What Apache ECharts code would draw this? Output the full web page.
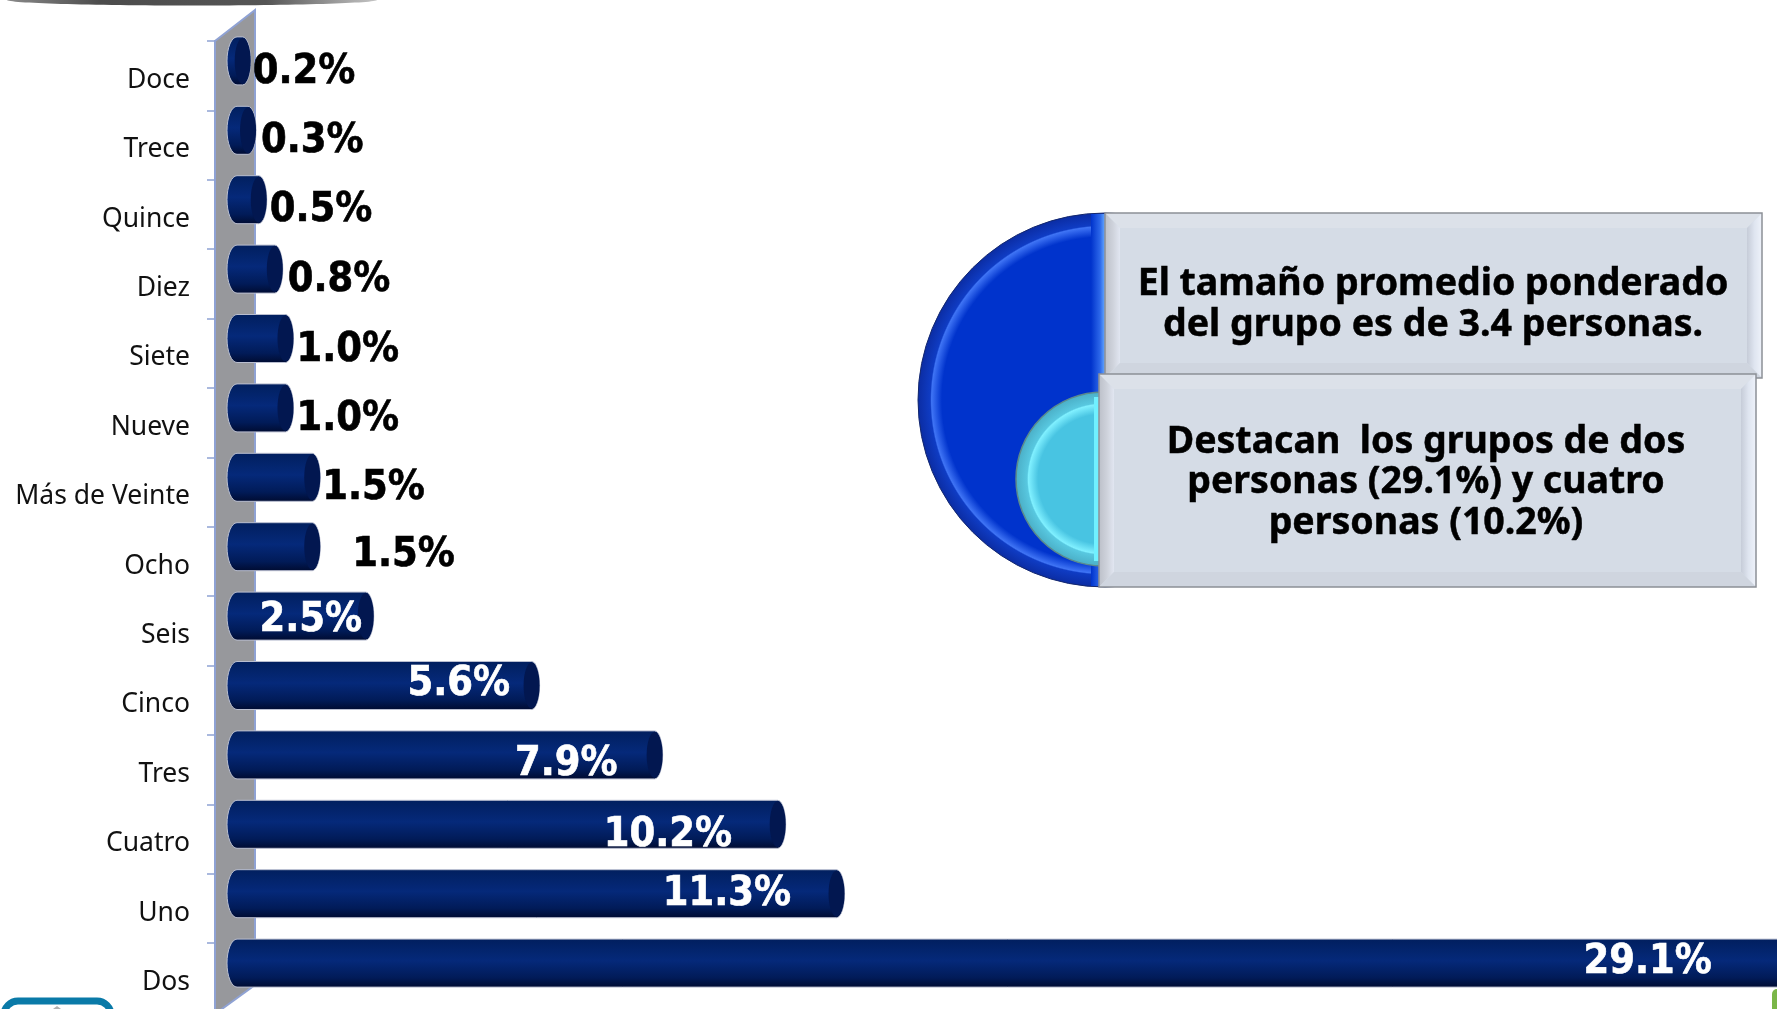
<!DOCTYPE html>
<html>
<head>
<meta charset="utf-8">
<style>
html, body { margin: 0; padding: 0; background: #fff; overflow: hidden; }
#chart { width: 1777px; height: 1009px; }
</style>
<script src="https://cdn.jsdelivr.net/npm/echarts@6/dist/echarts.min.js"></script>
</head>
<body>
<div id="chart"></div>
<script>
// datos
var categories = ["Doce", "Trece", "Quince", "Diez", "Siete", "Nueve", "Más de Veinte", "Ocho", "Seis", "Cinco", "Tres", "Cuatro", "Uno", "Dos"];
var values = [0.2, 0.3, 0.5, 0.8, 1.0, 1.0, 1.5, 1.5, 2.5, 5.6, 7.9, 10.2, 11.3, 29.1];
var noteTop = ["El tamaño promedio ponderado", "del grupo es de 3.4 personas."];
var noteBottom = ["Destacan  los grupos de dos", "personas (29.1%) y cuatro", "personas (10.2%)"];

var myChart = echarts.init(document.getElementById("chart"));

var BOLD_FONT = '"DejaVu Sans"';
var NOTE_FONT = '"Noto Sans"';
var AXIS_BLUE = "#8fa2d4";

// el cilindro esta desplazado respecto a la banda (efecto 3D)
var BAR_SHIFT = -14.8;
var BAR_HEIGHT = 48;
// ajuste manual de etiquetas: [dx desde el final de la barra, dy desde el centro]
var labelNudge = {
    "Doce": [2, 11.5], "Trece": [5, 11.6], "Quince": [3, 11.2], "Diez": [5, 11.3],
    "Siete": [3, 11.9], "Nueve": [3, 11.5], "Más de Veinte": [2, 11.1], "Ocho": [32, 8.7],
    "Seis": [-11.7, 5], "Cinco": [-29.6, -1], "Tres": [-45, 10.1],
    "Cuatro": [-53.7, 11.1], "Uno": [-53.5, 0.5], "Dos": [-85, -0.5]
};

function renderCylinder(params, api) {
    var idx = api.value(1);
    var p = api.coord([api.value(0), idx]);
    var zero = api.coord([0, idx]);
    var cy = p[1] + BAR_SHIFT;
    var top = cy - BAR_HEIGHT / 2;
    var bottom = cy + BAR_HEIGHT / 2;
    var ry = BAR_HEIGHT / 2;
    var lx = zero[0] - 3;
    var rx = p[0] - 8;
    var body = "M" + lx + " " + top + " L" + rx + " " + top +
        " A8 " + ry + " 0 0 1 " + rx + " " + bottom +
        " L" + lx + " " + bottom +
        " A10 " + ry + " 0 0 1 " + lx + " " + top + " Z";
    var name = categories[idx];
    var nudge = labelNudge[name];
    var inside = nudge[0] < 0;
    var textColor = inside ? "#fff" : "#000";
    return {
        type: "group",
        children: [
            {
                type: "path",
                shape: { pathData: body },
                style: {
                    fill: new echarts.graphic.LinearGradient(0, 0, 0, 1, [
                        { offset: 0, color: "#011f5e" },
                        { offset: 0.45, color: "#05297a" },
                        { offset: 0.8, color: "#011b58" },
                        { offset: 1, color: "#000b30" }
                    ]),
                    stroke: "#b9bed0",
                    lineWidth: 1
                }
            },
            {
                type: "ellipse",
                shape: { cx: rx, cy: cy, rx: 8, ry: ry - 1 },
                style: { fill: "#021750" }
            },
            {
                type: "text",
                x: p[0] + nudge[0],
                y: cy + nudge[1],
                scaleY: 1.08,
                style: {
                    text: values[idx].toFixed(1) + "%",
                    fill: textColor,
                    stroke: textColor,
                    lineWidth: 0.6,
                    font: "bold 37px " + BOLD_FONT,
                    textAlign: inside ? "right" : "left",
                    textVerticalAlign: "middle"
                }
            }
        ]
    };
}

// caja con bisel del cuadro de texto
function bevelBox(x, y, w, h, lines, cx, firstY, lineGap, z) {
    var b = 15;
    var x2 = x + w, y2 = y + h;
    function facet(pts, color) {
        return { type: "polygon", silent: true, z: z, shape: { points: pts }, style: { fill: color } };
    }
    var kids = [
        { type: "rect", silent: true, z: z, shape: { x: x, y: y, width: w, height: h }, style: { fill: "#d5dce6" } },
        facet([[x, y], [x2, y], [x2 - b, y + b], [x + b, y + b]], "#dce1e9"),
        facet([[x, y], [x + b, y + b], [x + b, y2 - b], [x, y2]], new echarts.graphic.LinearGradient(0, 0, 1, 0, [
            { offset: 0, color: "#bcc0c9" },
            { offset: 0.55, color: "#cfd3dc" },
            { offset: 1, color: "#e1e6f1" }
        ])),
        facet([[x2, y], [x2, y2], [x2 - b, y2 - b], [x2 - b, y + b]], new echarts.graphic.LinearGradient(0, 0, 1, 0, [
            { offset: 0, color: "#c6ccd8" },
            { offset: 0.5, color: "#dfe5f0" },
            { offset: 1, color: "#eef2fa" }
        ])),
        facet([[x, y2], [x + b, y2 - b], [x2 - b, y2 - b], [x2, y2]], "#cfd5df"),
        { type: "rect", silent: true, z: z, shape: { x: x, y: y, width: w, height: h }, style: { fill: "none", stroke: "#8c9096", lineWidth: 1.5 } }
    ];
    lines.forEach(function (t, i) {
        kids.push({
            type: "text",
            silent: true,
            z: z,
            x: cx,
            y: firstY + i * lineGap,
            style: { text: t, fill: "#000", stroke: "#000", lineWidth: 0.5, font: "bold 37.5px " + NOTE_FONT, textAlign: "center", textVerticalAlign: "middle" }
        });
    });
    return kids;
}

var option = {
    backgroundColor: "#fff",
    animation: false,
    grid: { left: 240, top: 41, width: 1605, height: 971.6, outerBoundsMode: "none", containLabel: false },
    xAxis: { type: "value", min: 0, max: 30, show: false },
    yAxis: {
        type: "category",
        inverse: true,
        data: categories,
        offset: 25,
        z: 2,
        axisLine: { show: true, onZero: false, lineStyle: { color: AXIS_BLUE, width: 2 } },
        axisTick: { show: true, inside: false, length: 8, lineStyle: { color: AXIS_BLUE, width: 1.5 } },
        // lineHeight corto con verticalAlign top: baja el texto unos px respecto a la banda
        axisLabel: { color: "#111", fontFamily: "Noto Sans", fontSize: 26.5, margin: 25, verticalAlign: "top", lineHeight: 9 },
        splitLine: { show: false }
    },
    graphic: [
        // pared lateral del grafico 3D
        {
            type: "polygon", silent: true, z: 0,
            shape: { points: [[215, 41], [255, 10], [255, 985], [215, 1014]] },
            style: { fill: "#97989c", stroke: AXIS_BLUE, lineWidth: 2 }
        },
        // arco oscuro del borde superior
        {
            type: "ellipse", silent: true, z: 0,
            shape: { cx: 192, cy: 0, rx: 185, ry: 5.5 },
            style: {
                fill: new echarts.graphic.LinearGradient(0, 0, 1, 0, [
                    { offset: 0, color: "#8a8a8a" },
                    { offset: 0.25, color: "#4c4c4c" },
                    { offset: 0.7, color: "#555" },
                    { offset: 1, color: "#c4c4c4" }
                ])
            }
        },
        // esquina inferior izquierda y derecha
        {
            type: "rect", silent: true, z: 0,
            shape: { x: 4, y: 1001, width: 107, height: 30, r: 14 },
            style: { fill: "#fff", stroke: "#0a7aa8", lineWidth: 7 }
        },
        {
            type: "polygon", silent: true, z: 0,
            shape: { points: [[53, 1009], [57, 1006], [61, 1009]] },
            style: { fill: "#b0b0b0" }
        },
        {
            type: "rect", silent: true, z: 0,
            shape: { x: 1772, y: 989, width: 20, height: 30, r: 5 },
            style: { fill: "#7ab648" }
        },
        // semicirculos detras de los cuadros
        {
            type: "circle", silent: true, z: 5,
            shape: { cx: 1105, cy: 400, r: 187 },
            style: {
                fill: new echarts.graphic.RadialGradient(0.5, 0.5, 0.5, [
                    { offset: 0, color: "#0033cc" },
                    { offset: 0.87, color: "#0033cc" },
                    { offset: 0.925, color: "#3f74f5" },
                    { offset: 0.932, color: "#0f3cc4" },
                    { offset: 1, color: "#0b2ca2" }
                ]),
                stroke: "#14286e",
                lineWidth: 1
            }
        },
        {
            type: "rect", silent: true, z: 5,
            shape: { x: 1091, y: 214, width: 14, height: 372 },
            style: {
                fill: new echarts.graphic.LinearGradient(0, 0, 1, 0, [
                    { offset: 0, color: "#0033cc" },
                    { offset: 0.65, color: "#2d68ea" },
                    { offset: 1, color: "#66aaff" }
                ])
            }
        },
        {
            type: "circle", silent: true, z: 6,
            shape: { cx: 1103, cy: 479, r: 87 },
            style: {
                fill: new echarts.graphic.RadialGradient(0.5, 0.5, 0.5, [
                    { offset: 0, color: "#48c4e2" },
                    { offset: 0.74, color: "#48c4e2" },
                    { offset: 0.85, color: "#80f0ff" },
                    { offset: 0.865, color: "#58c8e0" },
                    { offset: 1, color: "#4aaec6" }
                ]),
                stroke: "#5b8a8c",
                lineWidth: 1.5
            }
        },
        {
            type: "rect", silent: true, z: 6,
            shape: { x: 1094, y: 397, width: 5, height: 164 },
            style: { fill: "#70f0ff" }
        }
    ].concat(
        bevelBox(1105, 213, 657, 165, noteTop, 1433, 284, 41, 10),
        bevelBox(1099, 374, 657, 213, noteBottom, 1426, 442, 40.5, 11)
    ),
    series: [
        {
            type: "custom",
            z: 3,
            clip: false,
            renderItem: renderCylinder,
            encode: { x: 0, y: 1 },
            data: values.map(function (v, i) { return [v, i]; })
        }
    ]
};
myChart.setOption(option);

window.addEventListener("resize", function () {
    myChart.resize();
});
</script>
</body>
</html>
